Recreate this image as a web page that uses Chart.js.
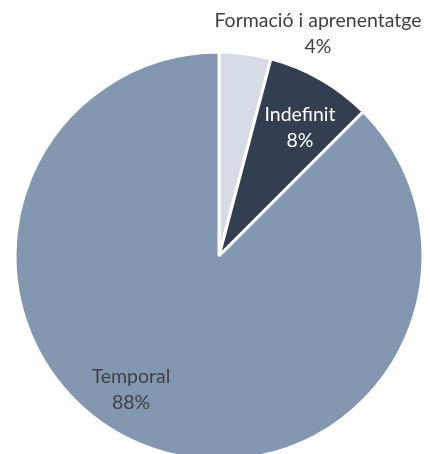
<!DOCTYPE html>
<html>
<head>
<meta charset="utf-8">
<script src="https://cdn.jsdelivr.net/npm/chart.js@4.4.1/dist/chart.umd.min.js"></script>
<style>
  html, body { margin: 0; padding: 0; background: #ffffff; overflow: hidden; width: 430px; height: 454px; }
  #wrap { position: absolute; left: 0; top: 0; width: 430px; height: 512px; }
</style>
</head>
<body>
<div id="wrap"><canvas id="c"></canvas></div>
<script>
const categories = ["Formació i aprenentatge", "Indefinit", "Temporal"];
const values = [4.1, 8.4, 87.5];
const percentLabels = ["4%", "8%", "88%"];
const sliceColors = ["#d6dce5", "#333f50", "#8497b0"];
const labelColors = ["#404040", "#ffffff", "#404040"];
// label block centres relative to the pie centre (px)
const labelOffsets = [[99, -222], [81, -128], [-88, 134]];

const labelPlugin = {
  id: 'sliceLabels',
  afterDatasetsDraw(chart) {
    const ctx = chart.ctx;
    const meta = chart.getDatasetMeta(0);
    ctx.save();
    ctx.font = '19.5px Lato, sans-serif';
    ctx.textAlign = 'center';
    ctx.textBaseline = 'middle';
    meta.data.forEach((arc, i) => {
      const cx = arc.x + labelOffsets[i][0];
      const cy = arc.y + labelOffsets[i][1];
      ctx.fillStyle = labelColors[i];
      ctx.fillText(categories[i], cx, cy - 13);
      ctx.fillText(percentLabels[i], cx, cy + 13);
    });
    ctx.restore();
  }
};

new Chart(document.getElementById('c'), {
  type: 'pie',
  data: {
    labels: categories,
    datasets: [{
      data: values,
      backgroundColor: sliceColors,
      borderColor: '#ffffff',
      borderWidth: 3
    }]
  },
  options: {
    responsive: true,
    maintainAspectRatio: false,
    animation: false,
    radius: 204,
    layout: { padding: { left: 8, right: 0, top: 0, bottom: 0 } },
    plugins: { legend: { display: false }, tooltip: { enabled: false } }
  },
  plugins: [labelPlugin]
});
</script>
</body>
</html>
